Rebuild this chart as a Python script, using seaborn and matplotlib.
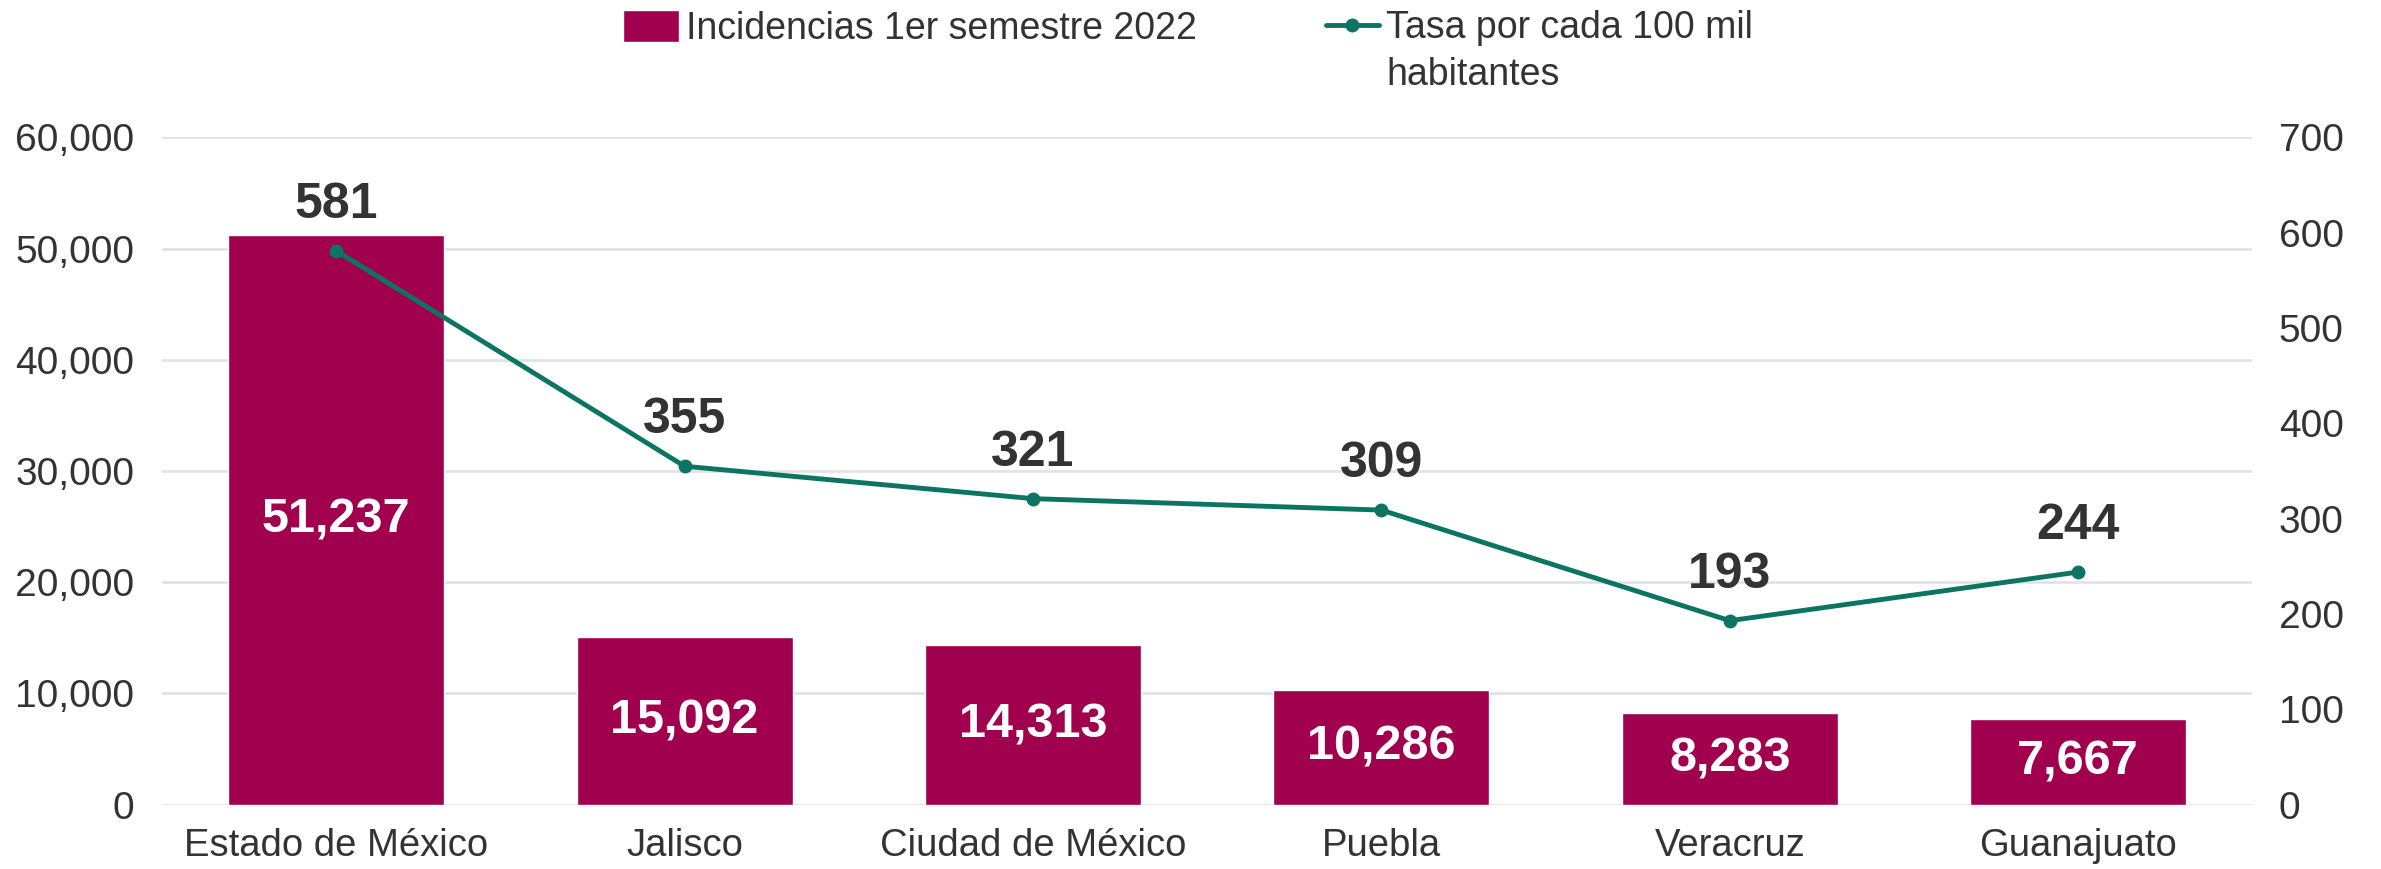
import numpy as np
import pandas as pd
import seaborn as sns
import matplotlib.pyplot as plt
from matplotlib.ticker import FuncFormatter

estados = ['Estado de México', 'Jalisco', 'Ciudad de México', 'Puebla', 'Veracruz', 'Guanajuato']
incidencias = [51237, 15092, 14313, 10286, 8283, 7667]
tasa = [581, 355, 321, 309, 193, 244]

bar_label = 'Incidencias 1er semestre 2022'
line_label = 'Tasa por cada 100 mil'
line_label2 = 'habitantes'

bar_color = '#A0004E'
line_color = '#0B7462'
text_color = '#333333'

df = pd.DataFrame({'estado': estados, 'incidencias': incidencias, 'tasa': tasa,
                   'pos': np.arange(len(estados))})

sns.set_style('white')
plt.rcParams['font.family'] = ['Liberation Sans', 'DejaVu Sans']

fig, ax = plt.subplots(figsize=(23.81, 8.69), dpi=100)
fig.subplots_adjust(left=0.068, right=0.946, top=0.842, bottom=0.074)

sns.barplot(data=df, x='estado', y='incidencias', color=bar_color, width=0.62,
            saturation=1, ax=ax, label=bar_label, zorder=2)
ax.set_ylim(0, 60000)
ax.set_yticks(range(0, 60001, 10000))
ax.yaxis.set_major_formatter(FuncFormatter(lambda v, p: f'{int(v):,}'))
ax.grid(axis='y', color='#E3E3E3', linewidth=2, zorder=0)
ax.set_axisbelow(True)
ax.set_xlabel('')
ax.set_ylabel('')
ax.tick_params(axis='y', length=0, labelsize=28, labelcolor=text_color, pad=20)
ax.tick_params(axis='x', length=0, labelsize=27.5, labelcolor=text_color, pad=17)
for s in ax.spines.values():
    s.set_visible(False)

for i, v in enumerate(incidencias):
    ax.text(i, v / 2, f'{v:,}', ha='center', va='center', color='white',
            fontsize=35, fontweight='bold', zorder=5)

ax2 = ax.twinx()
sns.lineplot(data=df, x='pos', y='tasa', color=line_color, linewidth=3.5, marker='o',
             markersize=10, markeredgewidth=0, ax=ax2, label=line_label, zorder=4)
ax2.set_ylim(0, 700)
ax2.set_yticks(range(0, 701, 100))
ax2.set_ylabel('')
ax2.set_xlabel('')
ax2.tick_params(axis='y', length=0, labelsize=28, labelcolor=text_color, pad=19)
for s in ax2.spines.values():
    s.set_visible(False)
ax2.legend_.remove()

for i, v in enumerate(tasa):
    ax2.annotate(f'{v}', (i, v), xytext=(0, 33), textcoords='offset points',
                 ha='center', va='center', color=text_color, fontsize=36,
                 fontweight='bold')

ax.set_xlim(-0.5, len(estados) - 0.5)

h1, l1 = ax.get_legend_handles_labels()
h2, l2 = ax2.get_legend_handles_labels()
if ax.legend_:
    ax.legend_.remove()
leg1 = fig.legend(h1, l1, loc='upper left', bbox_to_anchor=(0.2615, 0.988),
                  frameon=False, fontsize=27, labelcolor=text_color, handlelength=1.5,
                  handleheight=0.9, handletextpad=0.2, borderpad=0, borderaxespad=0)
leg2 = fig.legend(h2, l2, loc='upper left', bbox_to_anchor=(0.557, 0.988),
                  frameon=False, fontsize=27, labelcolor=text_color, handlelength=1.4,
                  handletextpad=0.2, borderpad=0, borderaxespad=0)

fig.canvas.draw()
bb = leg2.get_texts()[0].get_window_extent()
x0, y0 = fig.transFigure.inverted().transform((bb.x0, bb.y0))
fig.text(x0, y0 - 0.012, line_label2, ha='left', va='top', fontsize=27, color=text_color)

fig.savefig('out.png', dpi=100)
